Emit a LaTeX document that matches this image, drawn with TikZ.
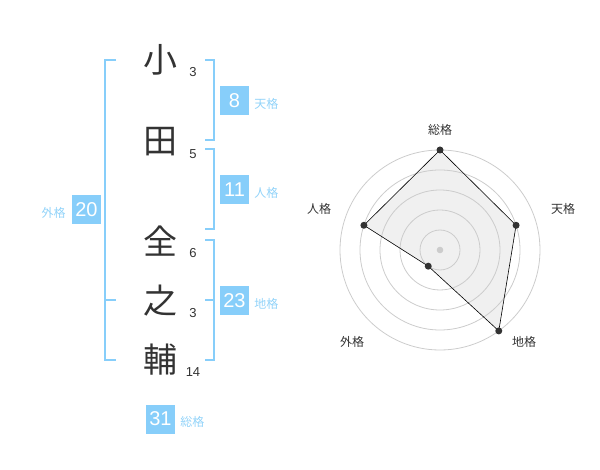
\documentclass[tikz,border=0pt]{standalone}
\usepackage{fontspec}
\setmainfont{Liberation Sans}
\newfontfamily\jpfont{Noto Sans CJK JP}
\definecolor{kakublue}{HTML}{87CEFA}
\definecolor{kakulabel}{HTML}{92D3F9}
\definecolor{ringgray}{HTML}{CCCCCC}
\definecolor{inkdark}{HTML}{333333}
\tikzset{
  kanji/.style={font=\jpfont\fontsize{34}{34}\selectfont, text=inkdark, inner sep=0pt},
  strokes/.style={font=\fontsize{13}{13}\selectfont, text=inkdark, inner sep=0pt},
  kakubox/.style={fill=kakublue, text=white, minimum size=29pt, inner sep=0pt, font=\fontsize{20}{20}\selectfont},
  kakuname/.style={font=\jpfont\fontsize{12}{12}\selectfont, text=kakulabel, inner sep=0pt},
  bracket/.style={draw=kakublue, line width=2pt},
  axisname/.style={font=\jpfont\fontsize{12}{12}\selectfont, text=inkdark, inner sep=0pt},
  dot/.style={circle, fill=inkdark, inner sep=0pt, minimum size=7pt},
}
\begin{document}
\begin{tikzpicture}[x=1pt,y=-1pt]
    \useasboundingbox (0,0) rectangle (600,470);

    % Name characters with stroke counts
    \foreach \ch/\y/\n [count=\i] in {小/60/3, 田/142/5, 全/241/6, 之/301/3, 輔/360/14} {
        \node[kanji] (c\i) at (160,\y) {\ch};
        \node[strokes] (s\i) at (193,\y+12) {\n};
    }

    % Left bracket: gaikaku
    \draw[bracket] (116,60) -- (105,60) -- (105,360) -- (116,360);
    \draw[bracket] (105,300) -- (116,300);

    % Right brackets: tenkaku, jinkaku, chikaku
    \draw[bracket] (205,60) -- (214,60) -- (214,140) -- (205,140);
    \draw[bracket] (205,149) -- (214,149) -- (214,229) -- (205,229);
    \draw[bracket] (205,240) -- (214,240) -- (214,360) -- (205,360);
    \draw[bracket] (205,300) -- (214,300);

    % Boxes with labels
    \node[kakubox] (ten) at (234.5,100.5) {8};
    \node[kakuname, anchor=west] (ten-l) at ([xshift=5pt, yshift=-3pt]ten.east) {天格};
    \node[kakubox] (jin) at (234.5,190) {11};
    \node[kakuname, anchor=west] (jin-l) at ([xshift=5pt, yshift=-3pt]jin.east) {人格};
    \node[kakubox] (chi) at (234.5,300.5) {23};
    \node[kakuname, anchor=west] (chi-l) at ([xshift=5pt, yshift=-3pt]chi.east) {地格};
    \node[kakubox] (gai) at (86.5,210) {20};
    \node[kakuname, anchor=east] (gai-l) at ([xshift=-6pt, yshift=-3pt]gai.west) {外格};
    \node[kakubox] (sou) at (160.5,419) {31};
    \node[kakuname, anchor=west] (sou-l) at ([xshift=5pt, yshift=-3pt]sou.east) {総格};

    % Radar chart
    \begin{scope}[shift={(440,250)}, y=1pt]
        \foreach \ax/\ang/\r in {sou/90/100, ten/18/80, chi/-54/100, gai/-126/20, jin/162/80} {
            \coordinate (p-\ax) at (\ang:\r);
        }
        \fill[gray!12] (p-sou) -- (p-ten) -- (p-chi) -- (p-gai) -- (p-jin) -- cycle;

        \foreach \r in {20,40,...,100} {
            \draw[ringgray, line width=0.8pt] (0,0) circle (\r);
        }
        \fill[ringgray] (0,0) circle (3.3);

        \draw[black, line width=0.6pt]
            (p-sou) -- (p-ten) -- (p-chi) -- (p-gai) -- (p-jin) -- cycle;
        \foreach \ax in {sou,ten,chi,gai,jin} {
            \node[dot] (d-\ax) at (p-\ax) {};
        }

        % Axis labels
        \node[axisname] (a-sou) at (0,120) {総格};
        \node[axisname] (a-ten) at (123,41) {天格};
        \node[axisname] (a-chi) at (84,-92) {地格};
        \node[axisname] (a-gai) at (-88,-92) {外格};
        \node[axisname] (a-jin) at (-121,41) {人格};
    \end{scope}
\end{tikzpicture}
\end{document}
